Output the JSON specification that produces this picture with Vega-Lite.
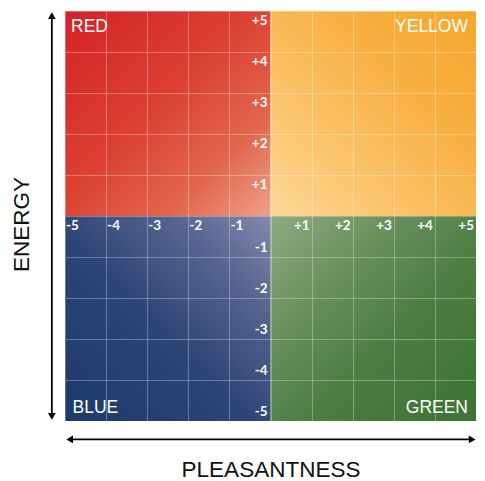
{
  "$schema": "https://vega.github.io/schema/vega-lite/v6.json",
  "width": 411,
  "height": 410,
  "autosize": {"type": "none"},
  "padding": {"left": 65, "top": 11, "right": 9, "bottom": 60},
  "background": "white",
  "config": {"view": {"stroke": null}},
  "datasets": {
    "quads": [
      {"q": "RED", "x": -5, "x2": 0, "y": 0, "y2": 5},
      {"q": "YELLOW", "x": 0, "x2": 5, "y": 0, "y2": 5},
      {"q": "BLUE", "x": -5, "x2": 0, "y": -5, "y2": 0},
      {"q": "GREEN", "x": 0, "x2": 5, "y": -5, "y2": 0}
    ],
    "xlabels": [
      {"v": -5, "t": "-5"}, {"v": -4, "t": "-4"}, {"v": -3, "t": "-3"}, {"v": -2, "t": "-2"}, {"v": -1, "t": "-1"},
      {"v": 1, "t": "+1"}, {"v": 2, "t": "+2"}, {"v": 3, "t": "+3"}, {"v": 4, "t": "+4"}, {"v": 5, "t": "+5"}
    ],
    "ylabels": [
      {"v": -5, "t": "-5"}, {"v": -4, "t": "-4"}, {"v": -3, "t": "-3"}, {"v": -2, "t": "-2"}, {"v": -1, "t": "-1"},
      {"v": 1, "t": "+1"}, {"v": 2, "t": "+2"}, {"v": 3, "t": "+3"}, {"v": 4, "t": "+4"}, {"v": 5, "t": "+5"}
    ],
    "arrows": [
      {"a": "energy", "x": -5.32, "x2": -5.32, "y": -4.88, "y2": 4.88},
      {"a": "pleasantness", "x": -4.88, "x2": 4.9, "y": -5.45, "y2": -5.45}
    ],
    "heads": [
      {"x": -5.32, "y": 4.86, "angle": 0},
      {"x": -5.32, "y": -4.86, "angle": 180},
      {"x": -4.86, "y": -5.45, "angle": 270},
      {"x": 4.88, "y": -5.45, "angle": 90}
    ]
  },
  "layer": [
    {
      "data": {"name": "quads"},
      "transform": [{"filter": "datum.q == 'RED'"}],
      "mark": {"type": "rect", "strokeWidth": 0, "color": {"gradient": "linear", "x1": 0, "y1": 0, "x2": 1, "y2": 1, "stops": [
        {"offset": 0, "color": "#d42228"}, {"offset": 0.45, "color": "#db4032"}, {"offset": 0.75, "color": "#e2664d"}, {"offset": 1, "color": "#eda18a"}]}},
      "encoding": {
        "x": {"field": "x", "type": "quantitative", "scale": {"domain": [-5, 5], "nice": false, "zero": false},
          "axis": {"orient": "bottom", "values": [-5, -4, -3, -2, -1, 0, 1, 2, 3, 4, 5], "grid": true, "gridColor": "white", "gridOpacity": 0.3, "gridWidth": 1,
            "labels": false, "ticks": false, "domain": false, "zindex": 1,
            "title": "PLEASANTNESS", "titleFont": "Liberation Sans", "titleFontSize": 22.5, "titleFontWeight": "normal", "titleColor": "#111", "titlePadding": 37}},
        "x2": {"field": "x2"},
        "y": {"field": "y", "type": "quantitative", "scale": {"domain": [-5, 5], "nice": false, "zero": false},
          "axis": {"orient": "left", "values": [-5, -4, -3, -2, -1, 0, 1, 2, 3, 4, 5], "grid": true, "gridColor": "white", "gridOpacity": 0.3, "gridWidth": 1,
            "labels": false, "ticks": false, "domain": false, "zindex": 1,
            "title": "ENERGY", "titleFont": "Liberation Sans", "titleFontSize": 22.5, "titleFontWeight": "normal", "titleColor": "#111", "titlePadding": 32, "titleY": 213}},
        "y2": {"field": "y2"}
      }
    },
    {
      "data": {"name": "quads"},
      "transform": [{"filter": "datum.q == 'YELLOW'"}],
      "mark": {"type": "rect", "strokeWidth": 0, "color": {"gradient": "linear", "x1": 0, "y1": 1, "x2": 1, "y2": 0, "stops": [
        {"offset": 0, "color": "#fdd89a"}, {"offset": 0.3, "color": "#fbc46c"}, {"offset": 0.65, "color": "#f8b043"}, {"offset": 1, "color": "#f6a62c"}]}},
      "encoding": {
        "x": {"field": "x", "type": "quantitative"}, "x2": {"field": "x2"},
        "y": {"field": "y", "type": "quantitative"}, "y2": {"field": "y2"}
      }
    },
    {
      "data": {"name": "quads"},
      "transform": [{"filter": "datum.q == 'BLUE'"}],
      "mark": {"type": "rect", "strokeWidth": 0, "color": {"gradient": "linear", "x1": 1, "y1": 0, "x2": 0, "y2": 1, "stops": [
        {"offset": 0, "color": "#8489ad"}, {"offset": 0.25, "color": "#55638f"}, {"offset": 0.55, "color": "#2d4476"}, {"offset": 1, "color": "#1c3a6a"}]}},
      "encoding": {
        "x": {"field": "x", "type": "quantitative"}, "x2": {"field": "x2"},
        "y": {"field": "y", "type": "quantitative"}, "y2": {"field": "y2"}
      }
    },
    {
      "data": {"name": "quads"},
      "transform": [{"filter": "datum.q == 'GREEN'"}],
      "mark": {"type": "rect", "strokeWidth": 0, "color": {"gradient": "linear", "x1": 0, "y1": 0, "x2": 1, "y2": 1, "stops": [
        {"offset": 0, "color": "#90ab82"}, {"offset": 0.3, "color": "#6a905d"}, {"offset": 0.6, "color": "#4c7c42"}, {"offset": 1, "color": "#3d7334"}]}},
      "encoding": {
        "x": {"field": "x", "type": "quantitative"}, "x2": {"field": "x2"},
        "y": {"field": "y", "type": "quantitative"}, "y2": {"field": "y2"}
      }
    },
    {
      "data": {"name": "quads"},
      "transform": [{"filter": "datum.q == 'RED'"}],
      "mark": {"type": "text", "align": "left", "baseline": "top", "dx": 6, "dy": 7, "font": "Liberation Sans", "fontSize": 17.5, "fill": "white"},
      "encoding": {"x": {"field": "x", "type": "quantitative"}, "y": {"field": "y2", "type": "quantitative"}, "text": {"field": "q"}}
    },
    {
      "data": {"name": "quads"},
      "transform": [{"filter": "datum.q == 'YELLOW'"}],
      "mark": {"type": "text", "align": "right", "baseline": "top", "dx": -8, "dy": 7, "font": "Liberation Sans", "fontSize": 17.5, "fill": "white"},
      "encoding": {"x": {"field": "x2", "type": "quantitative"}, "y": {"field": "y2", "type": "quantitative"}, "text": {"field": "q"}}
    },
    {
      "data": {"name": "quads"},
      "transform": [{"filter": "datum.q == 'BLUE'"}],
      "mark": {"type": "text", "align": "left", "baseline": "alphabetic", "dx": 7.5, "dy": -8, "font": "Liberation Sans", "fontSize": 17.5, "fill": "white"},
      "encoding": {"x": {"field": "x", "type": "quantitative"}, "y": {"field": "y", "type": "quantitative"}, "text": {"field": "q"}}
    },
    {
      "data": {"name": "quads"},
      "transform": [{"filter": "datum.q == 'GREEN'"}],
      "mark": {"type": "text", "align": "right", "baseline": "alphabetic", "dx": -8, "dy": -8, "font": "Liberation Sans", "fontSize": 17.5, "fill": "white"},
      "encoding": {"x": {"field": "x2", "type": "quantitative"}, "y": {"field": "y", "type": "quantitative"}, "text": {"field": "q"}}
    },
    {
      "data": {"name": "xlabels"},
      "transform": [{"filter": "datum.v < 0"}],
      "mark": {"type": "text", "align": "left", "baseline": "top", "dx": 1, "dy": 3, "font": "Lato", "fontSize": 13.5, "fontWeight": "bold", "fill": "white"},
      "encoding": {"x": {"field": "v", "type": "quantitative"}, "y": {"datum": 0}, "text": {"field": "t"}}
    },
    {
      "data": {"name": "xlabels"},
      "transform": [{"filter": "datum.v > 0"}],
      "mark": {"type": "text", "align": "right", "baseline": "top", "dx": -2, "dy": 3, "font": "Lato", "fontSize": 13.5, "fontWeight": "bold", "fill": "white"},
      "encoding": {"x": {"field": "v", "type": "quantitative"}, "y": {"datum": 0}, "text": {"field": "t"}}
    },
    {
      "data": {"name": "ylabels"},
      "transform": [{"filter": "datum.v > 0"}],
      "mark": {"type": "text", "align": "right", "baseline": "top", "dx": -3, "dy": 3, "font": "Lato", "fontSize": 13.5, "fontWeight": "bold", "fill": "white"},
      "encoding": {"x": {"datum": 0}, "y": {"field": "v", "type": "quantitative"}, "text": {"field": "t"}}
    },
    {
      "data": {"name": "ylabels"},
      "transform": [{"filter": "datum.v < 0"}],
      "mark": {"type": "text", "align": "right", "baseline": "bottom", "dx": -3, "dy": -2, "font": "Lato", "fontSize": 13.5, "fontWeight": "bold", "fill": "white"},
      "encoding": {"x": {"datum": 0}, "y": {"field": "v", "type": "quantitative"}, "text": {"field": "t"}}
    },
    {
      "data": {"name": "arrows"},
      "mark": {"type": "rule", "color": "black", "strokeWidth": 1.8},
      "encoding": {
        "x": {"field": "x", "type": "quantitative"}, "x2": {"field": "x2"},
        "y": {"field": "y", "type": "quantitative"}, "y2": {"field": "y2"}
      }
    },
    {
      "data": {"name": "heads"},
      "mark": {"type": "point", "shape": "triangle", "filled": true, "color": "black", "opacity": 1, "size": 60, "strokeWidth": 0},
      "encoding": {
        "x": {"field": "x", "type": "quantitative"},
        "y": {"field": "y", "type": "quantitative"},
        "angle": {"field": "angle", "type": "quantitative", "scale": null}
      }
    }
  ]
}
